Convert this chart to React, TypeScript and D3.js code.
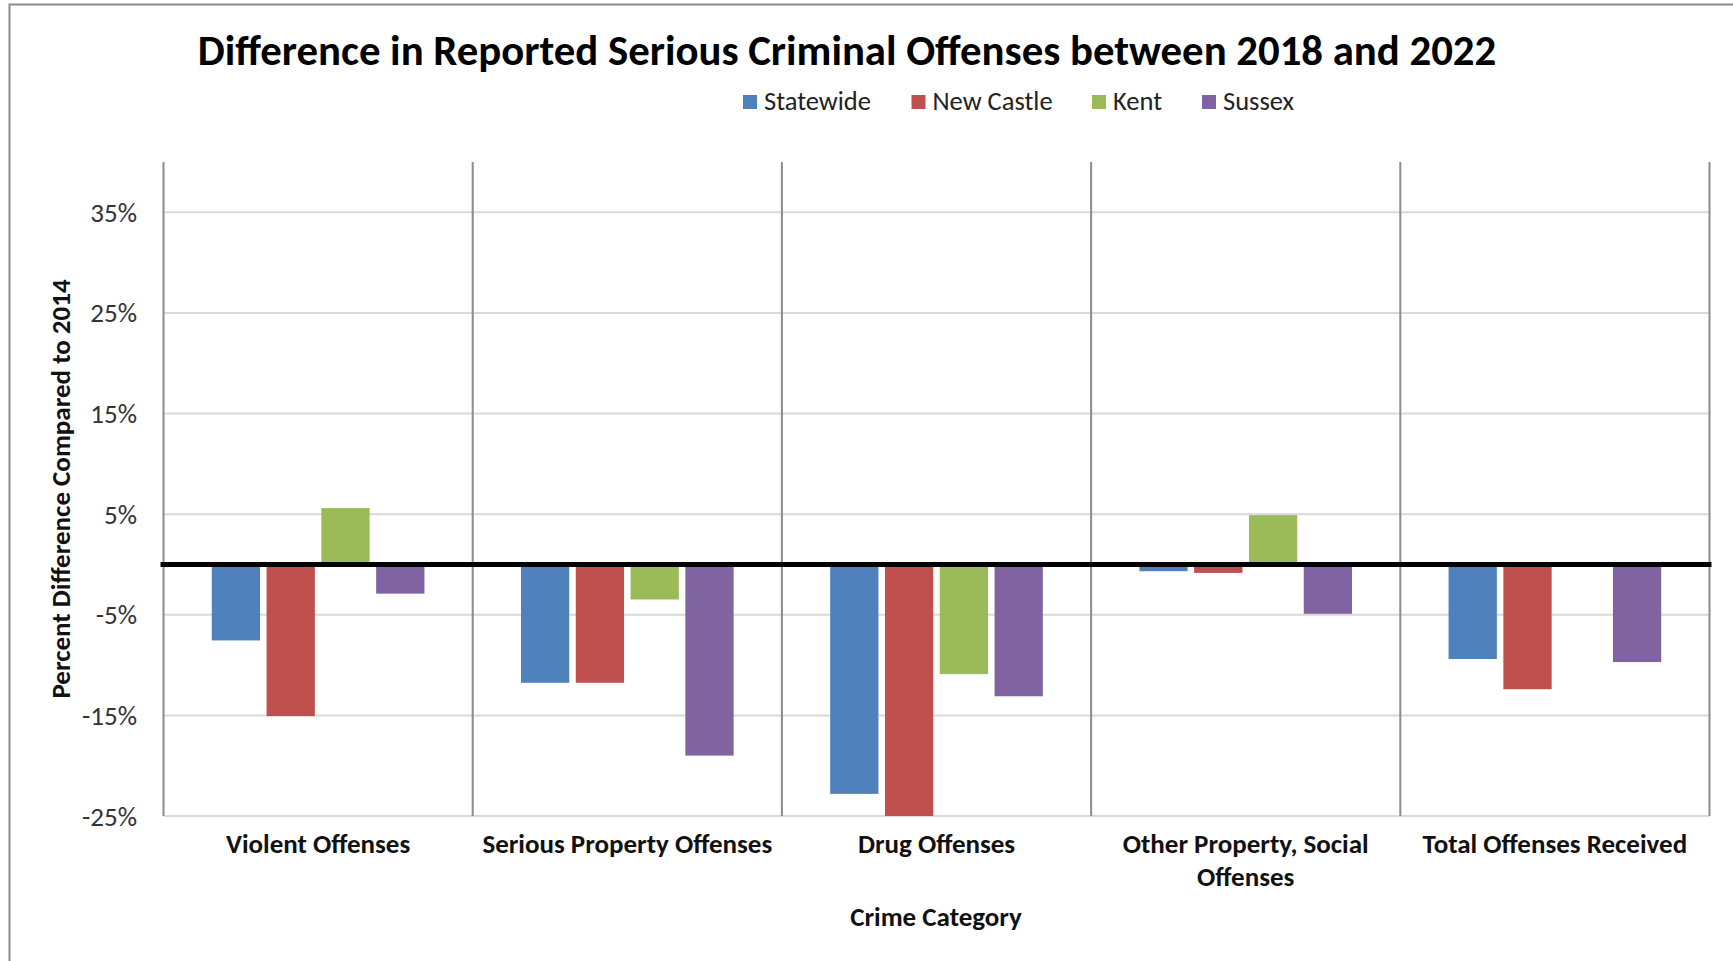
import React from "react";
import * as d3 from "d3";

const categories = [
  ["Violent Offenses"],
  ["Serious Property Offenses"],
  ["Drug Offenses"],
  ["Other Property, Social", "Offenses"],
  ["Total Offenses Received"],
];
const seriesNames = ["Statewide", "New Castle", "Kent", "Sussex"];
const seriesColors = ["#4F81BD", "#C0504D", "#9BBB59", "#8064A2"];
const statewide = [-0.0755, -0.1176, -0.228, -0.0067, -0.094];
const newCastle = [-0.1507, -0.1176, -0.262, -0.0084, -0.124];
const kent = [0.056, -0.0348, -0.109, 0.049, null];
const sussex = [-0.029, -0.19, -0.131, -0.049, -0.097];
const yTicks = [-0.25, -0.15, -0.05, 0.05, 0.15, 0.25, 0.35];
const yDomain = [-0.25, 0.4];

const seriesValues = [statewide, newCastle, kent, sussex];
const FONT = "Carlito, Lato, 'Open Sans', sans-serif";

export default function App() {
  const W = 1733, H = 961;
  const left = 163.5, right = 1709.5, top = 162, bottom = 816;
  const catKeys = categories.map((c) => c.join(" "));
  const x = d3.scaleBand<string>().domain(catKeys).range([left, right]).padding(0);
  const inner = d3
    .scaleBand<string>()
    .domain(seriesNames)
    .range([0, x.bandwidth()])
    .paddingInner(0.119)
    .paddingOuter(0.881);
  const y = d3.scaleLinear().domain(yDomain).range([bottom, top]);
  const fmt = (v: number) => `${Math.round(v * 100)}%`;
  const legendX = [743, 911.5, 1092, 1202];

  return (
    <svg
      width={W}
      height={H}
      style={{ position: "absolute", left: 0, top: 0, display: "block", background: "#fff" }}
      fontFamily={FONT}
    >
      <defs>
        <clipPath id="plotClip">
          <rect x={left} y={top} width={right - left} height={bottom - top} />
        </clipPath>
      </defs>
      <rect x={0} y={0} width={W} height={H} fill="#fff" />
      {/* outer chart border */}
      <path d={`M9.5,${H} V4.5 H${W}`} fill="none" stroke="#8a8a8a" strokeWidth={2} />

      {/* title */}
      <text x={847} y={65} textAnchor="middle" fontSize={42.8} fontWeight="bold" fill="#000">
        Difference in Reported Serious Criminal Offenses between 2018 and 2022
      </text>

      {/* legend */}
      {seriesNames.map((s, i) => (
        <g key={s}>
          <rect x={legendX[i]} y={95} width={14} height={14} fill={seriesColors[i]} />
          <text x={legendX[i] + 21} y={110} fontSize={26.5} fill="#222">
            {s}
          </text>
        </g>
      ))}

      {/* gridlines */}
      {yTicks.map((t) => (
        <line key={t} x1={left} x2={right} y1={y(t)} y2={y(t)} stroke="#d9d9d9" strokeWidth={2} />
      ))}
      {/* category separators */}
      {catKeys.map((k) => (
        <line
          key={k}
          x1={(x(k) as number) + x.bandwidth()}
          x2={(x(k) as number) + x.bandwidth()}
          y1={top}
          y2={bottom}
          stroke="#8c8c8c"
          strokeWidth={2}
        />
      ))}
      <line x1={left} x2={left} y1={top} y2={bottom} stroke="#8c8c8c" strokeWidth={2} />

      {/* bars */}
      <g clipPath="url(#plotClip)">
        {catKeys.map((k, ci) =>
          seriesNames.map((s, si) => {
            const v = seriesValues[si][ci];
            if (v === null || v === undefined) return null;
            const y0 = y(0), y1 = y(v as number);
            return (
              <rect
                key={k + s}
                x={(x(k) as number) + (inner(s) as number)}
                width={inner.bandwidth()}
                y={Math.min(y0, y1)}
                height={Math.abs(y1 - y0)}
                fill={seriesColors[si]}
              />
            );
          })
        )}
      </g>

      {/* zero line */}
      <line x1={left - 3} x2={right + 2} y1={y(0)} y2={y(0)} stroke="#000" strokeWidth={5} />

      {/* y tick labels */}
      {yTicks.map((t) => (
        <text key={t} x={137} y={y(t) + 9.5} textAnchor="end" fontSize={27} fill="#333">
          {fmt(t)}
        </text>
      ))}

      {/* y axis title */}
      <text
        transform={`translate(70,489) rotate(-90)`}
        textAnchor="middle"
        fontSize={27}
        fontWeight="bold"
        fill="#111"
      >
        Percent Difference Compared to 2014
      </text>

      {/* category labels */}
      {categories.map((lines, ci) => (
        <text
          key={ci}
          x={(x(catKeys[ci]) as number) + x.bandwidth() / 2}
          y={852.5}
          textAnchor="middle"
          fontSize={27}
          fontWeight="bold"
          fill="#111"
        >
          {lines.map((ln, li) => (
            <tspan key={li} x={(x(catKeys[ci]) as number) + x.bandwidth() / 2} dy={li === 0 ? 0 : 33}>
              {ln}
            </tspan>
          ))}
        </text>
      ))}

      {/* x axis title */}
      <text x={936} y={925.5} textAnchor="middle" fontSize={27} fontWeight="bold" fill="#111">
        Crime Category
      </text>
    </svg>
  );
}
